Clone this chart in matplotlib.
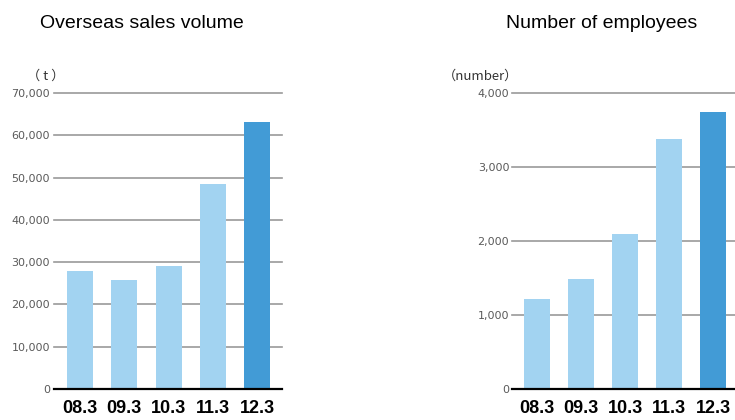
import matplotlib
matplotlib.use("Agg")
import matplotlib.pyplot as plt

# Fiscal year-end labels shared by both panels
periods = ["08.3", "09.3", "10.3", "11.3", "12.3"]
overseas_sales_t = [27900, 25800, 29100, 48500, 63100]
employees = [1210, 1480, 2100, 3380, 3750]

sales_ticks = [0, 10000, 20000, 30000, 40000, 50000, 60000, 70000]
employee_ticks = [0, 1000, 2000, 3000, 4000]

LIGHT = "#a2d3f1"
DARK = "#429bd6"
GRID = "#9a9a9a"
LABEL = "#5a5a5a"

W, H = 735, 420
fig = plt.figure(figsize=(W / 100, H / 100), dpi=100)


def panel(left_px, right_px, values, ticks, xlim, label_pad):
    ax = fig.add_axes([left_px / W, 1 - 389 / H, (right_px - left_px) / W, (389 - 93) / H])
    colors = [LIGHT] * (len(values) - 1) + [DARK]
    x = range(len(values))
    ax.bar(x, values, width=0.59, color=colors, zorder=2)
    ax.set_xlim(*xlim)
    ax.set_ylim(ticks[0], ticks[-1])
    ax.set_yticks(ticks)
    ax.set_yticklabels([f"{t:,}" for t in ticks], fontsize=8, color=LABEL,
                       family="DejaVu Sans")
    ax.set_xticks(list(x))
    ax.set_xticklabels(periods, fontsize=13, fontweight="bold", family="Liberation Sans")
    ax.tick_params(axis="y", length=0, pad=label_pad)
    ax.tick_params(axis="x", length=0, pad=8)
    for t in ticks[1:]:
        ax.axhline(t, color=GRID, lw=1.2, zorder=1, clip_on=False)
    ax.axhline(0, color="black", lw=1.6, zorder=3, clip_on=False)
    for s in ax.spines.values():
        s.set_visible(False)
    ax.patch.set_alpha(0)
    return ax


panel(54, 282, overseas_sales_t, sales_ticks, (-0.59, 4.565), 3)
panel(512, 735, employees, employee_ticks, (-0.57, 4.5), 2)

title_kw = dict(fontsize=14, family="Liberation Sans", ha="center", va="center")
fig.text(142 / W, 1 - 24 / H, "Overseas sales volume", **title_kw)
fig.text(602 / W, 1 - 24 / H, "Number of employees", **title_kw)

unit_kw = dict(fontsize=9.5, color="#333333", ha="center", va="center",
               family=["Noto Sans CJK JP", "DejaVu Sans"])
fig.text(46 / W, 1 - 76 / H, "（ t ）", **unit_kw)
fig.text(481 / W, 1 - 76 / H, "（number）", **unit_kw)

fig.savefig("out.png", dpi=100)
